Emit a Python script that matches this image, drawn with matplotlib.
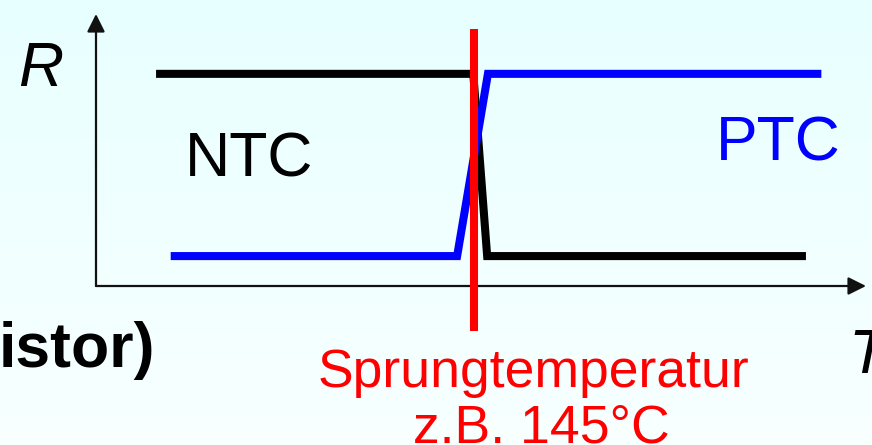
import numpy as np
import matplotlib
matplotlib.use("Agg")
import matplotlib.pyplot as plt

plt.rcParams['font.family'] = ['Liberation Sans', 'DejaVu Sans']

# ---- data (arbitrary units: temperature T 0..100, resistance R 0..100) ----
ntc_T = [7.8, 49.0, 50.8, 92.2]
ntc_R = [78.0, 78.0, 11.0, 11.0]
ptc_T = [9.7, 46.9, 50.9, 94.2]
ptc_R = [11.0, 11.0, 78.0, 78.0]
sprung_T = 49.1
sprung_R_range = [94.5, -16.5]

label_R = "R"
label_T = "T"
label_ntc = "NTC"
label_ptc = "PTC"
label_left = "istor)"
label_sprung = "Sprungtemperatur"
label_example = "z.B. 145°C"

W, H = 872, 445
fig = plt.figure(figsize=(W / 100, H / 100), dpi=100)

# background gradient
bg = fig.add_axes([0, 0, 1, 1], zorder=-1)
top = np.array([232, 255, 255]) / 255
bot = np.array([248, 255, 255]) / 255
t = np.linspace(0, 1, 256)[:, None, None]
grad = top * (1 - t) + bot * t
grad = np.repeat(grad, 2, axis=1)
bg.imshow(grad, aspect='auto', extent=[0, 1, 0, 1], origin='upper')
bg.set_axis_off()

# main axes: origin at pixel (96, 286), T=100 at x=866, R=100 at y=14
ax = fig.add_axes([96 / W, (H - 286) / H, 770 / W, 272 / H])
ax.set_xlim(0, 100)
ax.set_ylim(0, 100)
ax.set_facecolor('none')
ax.set_axis_off()

arrow_kw = dict(arrowstyle='-|>,head_length=0.4,head_width=0.2', mutation_scale=27,
                lw=1.6, color='#111111', shrinkA=0, shrinkB=0)
ax.annotate('', xy=(100, 0), xytext=(0, 0), arrowprops=arrow_kw, annotation_clip=False)
ax.annotate('', xy=(0, 100), xytext=(0, 0), arrowprops=arrow_kw, annotation_clip=False)

lw = 5.8
ax.plot(ntc_T, ntc_R, color='black', lw=lw, solid_capstyle='butt',
        solid_joinstyle='miter', clip_on=False, zorder=3)
ax.plot(ptc_T, ptc_R, color='#0000FF', lw=lw, solid_capstyle='butt',
        solid_joinstyle='miter', clip_on=False, zorder=4)
ax.plot([sprung_T, sprung_T], sprung_R_range, color='#FF0000', lw=lw,
        solid_capstyle='butt', clip_on=False, zorder=5)

fs = 45
fs_red = 38.5
ax.text(-10.1, 73.5, label_R, fontsize=fs, style='italic', ha='left', va='baseline', clip_on=False)
ax.text(11.6, 40.2, label_ntc, fontsize=fs, color='black', ha='left', va='baseline', clip_on=False)
ax.text(80.5, 46.0, label_ptc, fontsize=fs, color='#0000FF', ha='left', va='baseline', clip_on=False)
ax.text(97.7, -32.0, label_T, fontsize=fs, style='italic', ha='left', va='baseline', clip_on=False)
ax.text(7.7, -29.8, label_left, fontsize=fs, weight='bold', ha='right', va='baseline', clip_on=False)
ax.text(56.8, -37.1, label_sprung, fontsize=fs_red, color='#FF0000', ha='center', va='baseline', clip_on=False)
ax.text(57.8, -57.4, label_example, fontsize=fs_red, color='#FF0000', ha='center', va='baseline', clip_on=False)

fig.savefig('out.png', dpi=100)
